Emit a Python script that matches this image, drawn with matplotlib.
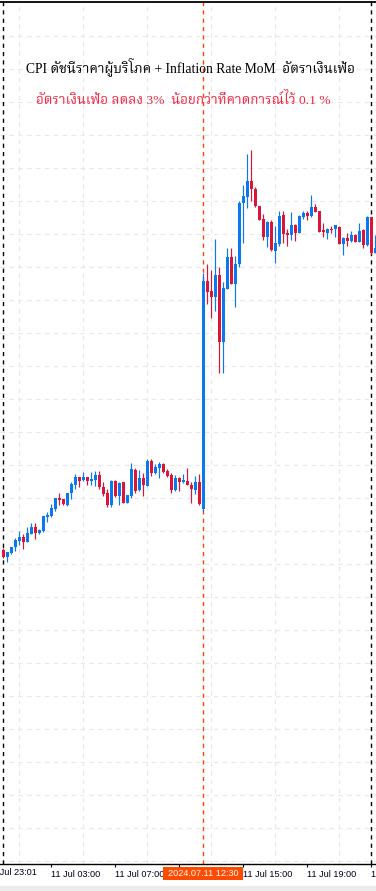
import matplotlib
matplotlib.use("Agg")
import matplotlib.pyplot as plt
from matplotlib import font_manager
from matplotlib.ft2font import FT2Font
from matplotlib.patches import Rectangle
from matplotlib.transforms import blended_transform_factory
import numpy as np

# ---------------- data (XAUUSD M15, 11 Jul 2024) ----------------
opens = [2385.00, 2384.33, 2384.73, 2385.27, 2385.93, 2386.27, 2385.83, 2386.60, 2387.27, 2386.73,
         2386.90, 2388.30, 2388.40, 2389.10, 2390.17, 2390.07, 2389.50, 2390.67, 2391.50, 2392.27,
         2392.00, 2392.27, 2391.93, 2392.00, 2392.50, 2391.27, 2390.67, 2389.50, 2391.90, 2390.43,
         2391.77, 2389.73, 2390.43, 2393.00, 2391.00, 2392.23, 2391.43, 2393.90, 2392.67, 2393.23,
         2393.60, 2392.90, 2392.50, 2391.00, 2392.23, 2391.80, 2391.90, 2391.50, 2391.00, 2391.80,
         2389.10, 2411.90, 2410.90, 2410.33, 2412.50, 2405.83, 2411.13, 2414.30, 2411.60, 2413.60,
         2419.67, 2420.33, 2421.90, 2421.07, 2419.40, 2418.10, 2416.33, 2417.83, 2414.93, 2415.57,
         2418.50, 2416.67, 2416.50, 2417.47, 2416.73, 2418.33, 2418.73, 2418.43, 2419.27, 2418.90,
         2417.00, 2416.73, 2417.10, 2417.07, 2417.27, 2415.60, 2416.20, 2415.93, 2416.50, 2415.83,
         2417.00, 2415.50, 2418.27, 2414.67]
highs = [2385.17, 2384.83, 2385.33, 2386.17, 2386.90, 2386.57, 2387.27, 2387.67, 2387.67, 2387.10,
         2388.40, 2388.83, 2389.57, 2390.23, 2390.67, 2390.13, 2390.73, 2391.83, 2392.57, 2392.33,
         2392.80, 2392.33, 2392.80, 2392.93, 2392.93, 2391.77, 2391.07, 2392.00, 2392.00, 2391.83,
         2391.83, 2390.50, 2393.73, 2393.17, 2393.00, 2392.67, 2394.07, 2394.07, 2393.60, 2393.80,
         2393.67, 2393.07, 2392.73, 2392.50, 2392.27, 2392.60, 2393.20, 2391.83, 2392.40, 2392.57,
         2412.67, 2413.60, 2413.00, 2416.10, 2413.33, 2411.80, 2415.23, 2415.23, 2414.40, 2419.93,
         2421.50, 2424.60, 2425.00, 2421.33, 2419.40, 2418.60, 2417.93, 2418.00, 2417.40, 2418.90,
         2418.90, 2417.10, 2418.80, 2417.60, 2418.50, 2418.90, 2418.90, 2420.50, 2419.60, 2418.90,
         2417.73, 2417.17, 2417.40, 2417.50, 2417.40, 2416.27, 2416.67, 2416.93, 2416.57, 2417.67,
         2417.07, 2418.40, 2418.33, 2416.50]
lows = [2384.17, 2383.83, 2384.60, 2384.93, 2385.50, 2385.10, 2385.83, 2386.60, 2386.10, 2386.57,
        2386.83, 2387.77, 2388.33, 2388.93, 2389.50, 2389.50, 2389.43, 2390.10, 2391.10, 2391.33,
        2391.93, 2391.50, 2391.50, 2391.43, 2391.10, 2390.40, 2389.33, 2389.33, 2390.33, 2389.50,
        2389.73, 2389.67, 2390.17, 2390.67, 2390.93, 2390.40, 2391.43, 2392.43, 2392.60, 2392.23,
        2392.73, 2392.33, 2390.67, 2390.90, 2390.90, 2391.67, 2391.50, 2389.73, 2390.60, 2389.50,
        2388.90, 2409.60, 2408.23, 2408.93, 2402.73, 2402.73, 2411.13, 2411.60, 2409.33, 2413.33,
        2415.67, 2419.23, 2419.90, 2419.33, 2418.00, 2416.00, 2415.33, 2414.93, 2413.73, 2415.40,
        2415.73, 2415.40, 2416.00, 2415.93, 2416.73, 2418.10, 2418.00, 2418.33, 2418.77, 2416.77,
        2416.33, 2416.10, 2416.73, 2416.33, 2415.60, 2414.50, 2415.40, 2415.83, 2415.83, 2415.77,
        2415.23, 2415.43, 2414.60, 2414.67]
closes = [2384.33, 2384.77, 2385.27, 2386.00, 2386.27, 2385.83, 2386.67, 2387.27, 2386.73, 2387.00,
          2388.40, 2388.50, 2389.17, 2390.17, 2390.00, 2389.57, 2390.67, 2391.60, 2392.33, 2391.93,
          2392.27, 2391.93, 2392.10, 2392.50, 2391.27, 2390.57, 2389.50, 2391.90, 2390.43, 2391.73,
          2389.73, 2390.50, 2393.10, 2390.93, 2392.23, 2391.50, 2393.90, 2392.67, 2393.27, 2393.60,
          2392.83, 2392.40, 2391.00, 2392.23, 2391.83, 2392.00, 2391.50, 2391.10, 2391.80, 2389.63,
          2411.90, 2410.83, 2410.33, 2412.50, 2405.83, 2411.20, 2414.30, 2411.60, 2413.60, 2419.67,
          2420.40, 2421.90, 2421.07, 2419.40, 2418.00, 2416.33, 2417.83, 2415.00, 2415.67, 2418.40,
          2416.60, 2416.50, 2417.47, 2416.73, 2418.40, 2418.67, 2418.43, 2419.33, 2418.83, 2416.83,
          2416.83, 2417.10, 2417.00, 2417.50, 2415.60, 2416.17, 2415.90, 2416.50, 2415.83, 2416.90,
          2415.50, 2418.33, 2414.67, 2415.17]

tick_idx = [-4, 12, 28, 44, 60, 76, 92]
tick_labels = ["10 Jul 23:01", "11 Jul 03:00", "11 Jul 07:00", "", "11 Jul 15:00", "11 Jul 19:00", "12 Jul 00:00"]
grid_x_idx = list(range(4, 94, 8))
day_sep_idx = [0, 92]
cursor_idx = 50
cursor_label = "2024.07.11 12:30"
title1 = "CPI ดัชนีราคาผู้บริโภค + Inflation Rate MoM  อัตราเงินเฟ้อ"
title2 = "อัตราเงินเฟ้อ ลดลง 3%  น้อยกว่าที่คาดการณ์ไว้ 0.1 %"

# ---------------- pick a font with Thai glyphs ----------------
thai_fonts = []
for f in font_manager.fontManager.ttflist:
    if f.name in thai_fonts:
        continue
    try:
        cm = FT2Font(f.fname).get_charmap()
        if 0x0E2D in cm and 0x0E49 in cm:
            thai_fonts.append(f.name)
    except Exception:
        pass
preferred = ["Noto Serif Thai", "Taviraj", "Trirong", "FreeSerif", "Loma"]
ordered = [p for p in preferred if p in thai_fonts] + [t for t in thai_fonts if t not in preferred]
serif_fams = ["Liberation Serif"] + ordered[:1] + ["DejaVu Sans"]
label_fams = ["Liberation Sans", "DejaVu Sans"]

BULL = "#0a78f0"
BEAR = "#dc143c"

W, H = 376, 891
fig = plt.figure(figsize=(W / 100, H / 100), dpi=100)
fig.patch.set_facecolor("white")
ax = fig.add_axes([0, 27 / H, 1, 862 / H])

o = np.array(opens); h = np.array(highs); l = np.array(lows); c = np.array(closes)
x = np.arange(len(o))
up = c >= o
cols = np.where(up, BULL, BEAR)

ax.vlines(x, l, h, colors=cols, linewidth=0.85, zorder=3)
bottoms = np.minimum(o, c)
heights = np.maximum(np.abs(c - o), 0.12)
ax.bar(x, heights, bottom=bottoms, width=0.76, color=cols, linewidth=0, zorder=4)

# grid & ticks
yt = 2436.4 - 3.3 * np.arange(0, 26)
ax.set_yticks(yt)
ax.tick_params(axis="y", left=False, labelleft=False)
ax.set_xticks(tick_idx)
ax.set_xticklabels(tick_labels, ha="left", fontsize=6.6, color="#000018", family=label_fams)
ax.set_xticks(grid_x_idx, minor=True)
ax.tick_params(axis="x", which="major", direction="out", length=2.5, width=0.8, pad=2, color="black")
ax.tick_params(axis="x", which="minor", length=0)
ax.grid(False)
ax.grid(True, axis="y", which="major", color="#e8e8e8", linestyle=(0, (4, 4)), linewidth=0.8, zorder=0)
ax.grid(True, axis="x", which="minor", color="#e8e8e8", linestyle=(0, (4, 4)), linewidth=0.8, zorder=0)
ax.set_axisbelow(True)

ax.set_xlim(-0.825, 93.175)
ax.set_ylim(2353.6, 2439.8)

# first (partly hidden) time label, left of the view
trans = blended_transform_factory(ax.transData, ax.transAxes)
ax.text(tick_idx[0], -0.0045, tick_labels[0], transform=trans, ha="left", va="top",
        fontsize=6.6, color="#000018", family=label_fams, clip_on=False)

for s in ["left", "right"]:
    ax.spines[s].set_visible(False)
ax.spines["top"].set_linewidth(1.3)
ax.spines["bottom"].set_linewidth(1.0)

for d in day_sep_idx:
    ax.axvline(d, color="black", linestyle=(0, (3, 3)), linewidth=1.0, zorder=2)
ax.axvline(cursor_idx, color="#ff4500", linestyle=(0, (3, 3)), linewidth=1.0, zorder=2)

# titles
fig.text(190 / W, 1 - 67 / H, title1, ha="center", va="center", fontsize=9.8,
         color="black", family=serif_fams)
fig.text(183.5 / W, 1 - 100 / H, title2, ha="center", va="center", fontsize=9.7,
         color="#f5213f", family=serif_fams)

# cursor date box
fig.add_artist(Rectangle((163 / W, 1 - 879.5 / H), 80 / W, 12.5 / H, transform=fig.transFigure,
                         facecolor="#ff4a00", edgecolor="none", zorder=5))
fig.text(203 / W, 1 - 873.5 / H, cursor_label, ha="center", va="center", fontsize=6.6,
         color="white", family=label_fams, zorder=6)

# bottom frame band
fig.add_artist(Rectangle((0, 0), 1, 5 / H, transform=fig.transFigure,
                         facecolor="#ececec", edgecolor="none", zorder=5))
fig.add_artist(plt.Line2D([0, 1], [5 / H, 5 / H], transform=fig.transFigure, color="#cfcfcf", linewidth=0.8))

fig.savefig("out.png", dpi=100)
